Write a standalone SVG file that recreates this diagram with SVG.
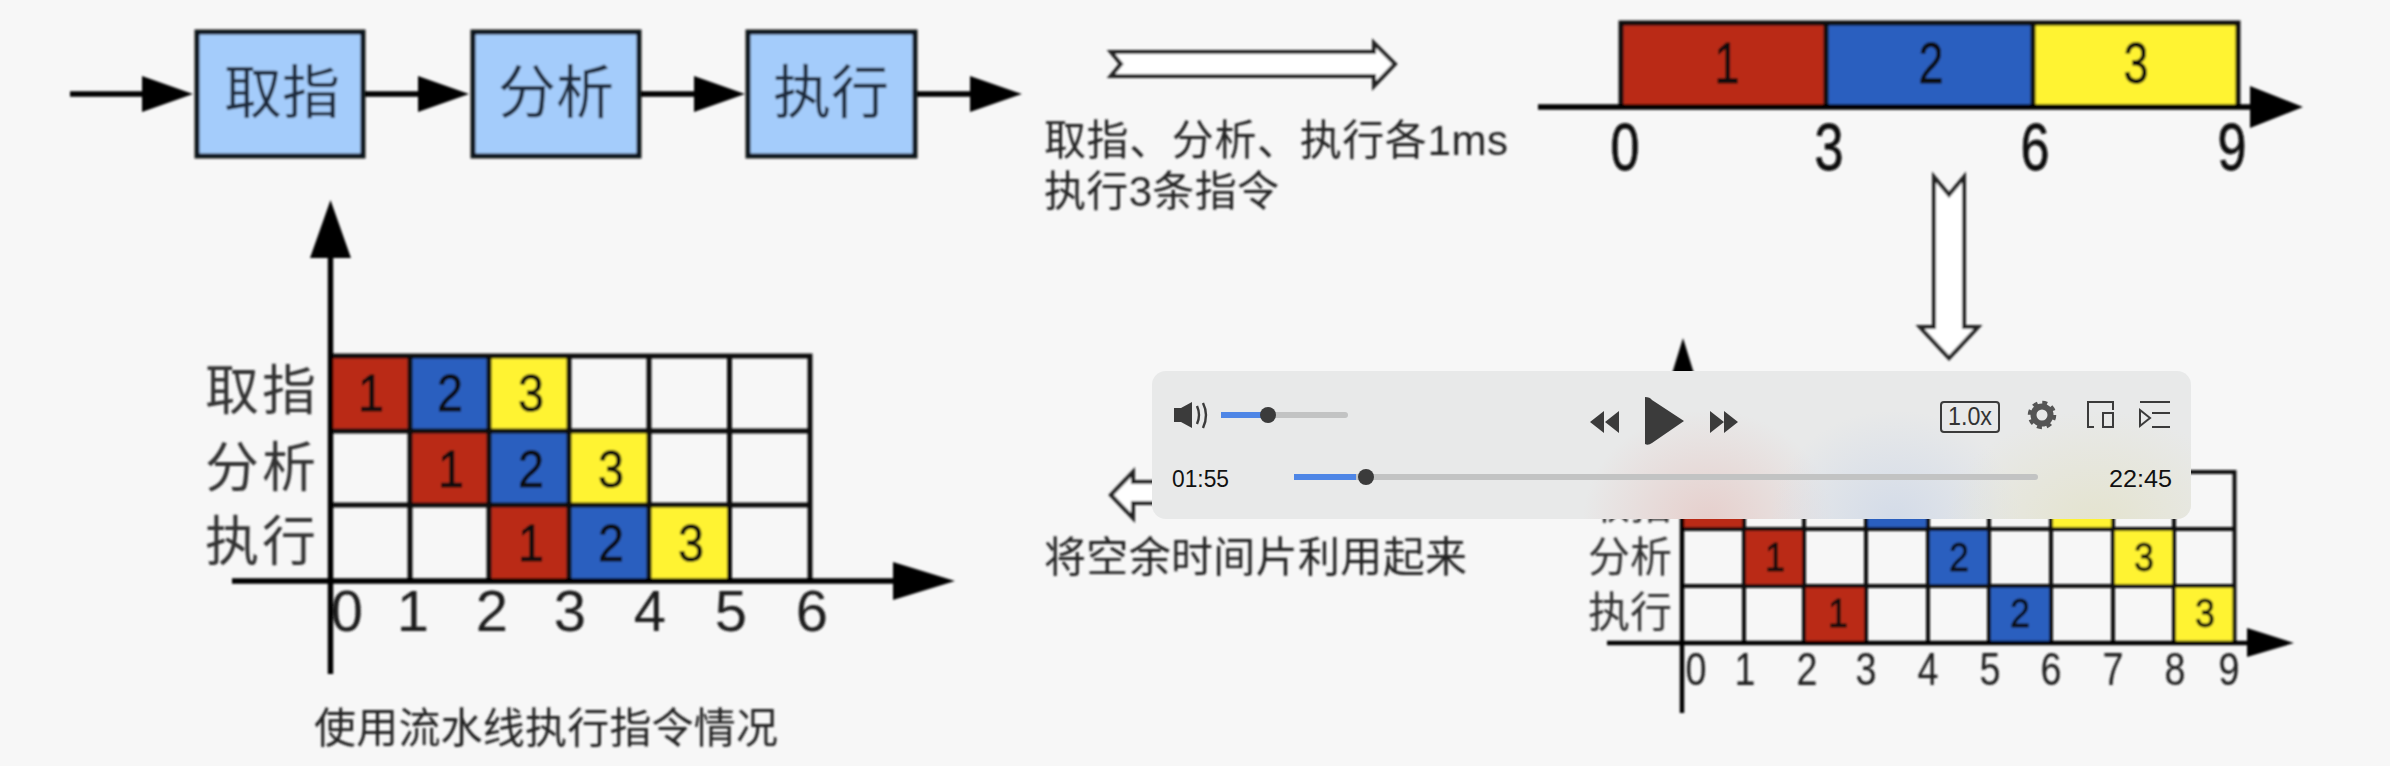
<svg xmlns="http://www.w3.org/2000/svg" width="2390" height="766" viewBox="0 0 2390 766">
<style>
text{font-family:"Liberation Sans","Noto Sans CJK SC",sans-serif;fill:#222}
.cn{font-size:42px}
.box{fill:#a4ccfb;stroke:#10141c;stroke-width:5}
.boxt{font-size:58px;text-anchor:middle;fill:#1f2a3c}
.l{stroke:#000;stroke-width:5.5;fill:none}
.g{stroke:#111;stroke-width:5;fill:none}
.g2{stroke:#111;stroke-width:4;fill:none}
.h{fill:#000}
.w{fill:#fff;stroke:#222;stroke-width:4}
.r{fill:#ba2c17}.b{fill:#2b5fbf}.y{fill:#fff333}
.d{font-family:"Liberation Sans",sans-serif;text-anchor:middle;fill:#1a1a1a}
.bd{fill:#0c0c0c;stroke:#0c0c0c;stroke-width:.8}
.d1{font-size:66px}.d2{font-size:58px}.d3{font-size:52px}.d4{font-size:58px}.d5{font-size:46px}.d6{font-size:40px}
.rl1{font-size:54px;text-anchor:middle;letter-spacing:3px;fill:#333}
.rl2{font-size:42px;text-anchor:middle;fill:#333}
.ui{fill:#3b3b3b}
.uis{fill:none;stroke:#3b3b3b;stroke-width:2.4}
.t{font-family:"Liberation Sans",sans-serif;font-size:24px;fill:#111}
.bl{fill:#4e86e6}.gr{fill:#c2c3c3}
</style>
<defs>
<filter id="soft" x="-2%" y="-2%" width="104%" height="104%"><feGaussianBlur stdDeviation="0.9"/></filter>
<radialGradient id="gr"><stop offset="0" stop-color="#e6cfcc"/><stop offset="1" stop-color="#e6cfcc" stop-opacity="0"/></radialGradient>
<radialGradient id="gb"><stop offset="0" stop-color="#d3dbe8"/><stop offset="1" stop-color="#d3dbe8" stop-opacity="0"/></radialGradient>
<radialGradient id="gy"><stop offset="0" stop-color="#e4e3ce"/><stop offset="1" stop-color="#e4e3ce" stop-opacity="0"/></radialGradient>
<clipPath id="pc"><rect x="1152" y="371" width="1039" height="148" rx="14"/></clipPath>
</defs>
<rect width="2390" height="766" fill="#f7f7f7"/>
<g filter="url(#soft)">
<g id="connectors">
<path class="l" d="M70 94H150M364 94H425M640 94H700M916 94H975"/>
<path class="h" d="M142 76L193 94L142 112ZM418 76L469 94L418 112ZM694 76L745 94L694 112ZM970 76L1022 94L970 112Z"/>
<path class="w" d="M1111 52H1374V43L1395 64L1374 86V76H1111L1121 64Z"/>
<path class="w" d="M1934 177L1949 195L1964 177V327H1978L1949 358L1920 327H1934Z"/>
<path class="w" d="M1175 482H1133V472L1111 495L1133 518V503H1175Z"/>
</g>
<g id="node-fetch"><rect class="box" x="197" y="32" width="166" height="124"/><text class="boxt" x="282" y="113">取指</text></g>
<g id="node-analyze"><rect class="box" x="473" y="32" width="166" height="124"/><text class="boxt" x="556" y="113">分析</text></g>
<g id="node-execute"><rect class="box" x="748" y="32" width="167" height="124"/><text class="boxt" x="831" y="113">执行</text></g>
<g id="note-top">
<text class="cn" x="1044" y="155" textLength="464">取指、分析、执行各1ms</text>
<text class="cn" x="1044" y="206" textLength="235">执行3条指令</text>
</g>
<g id="serial-timeline">
<rect class="r" x="1621" y="22" width="205" height="85"/>
<rect class="b" x="1826" y="22" width="207" height="85"/>
<rect class="y" x="2033" y="22" width="205" height="85"/>
<path class="g" d="M1621 107V23H2238V107M1826 23V107M2033 23V107"/>
<path class="l" d="M1538 107H2255"/>
<path class="h" d="M2250 86L2303 107L2250 128Z"/>
<text class="d d2 bd" x="1727" y="83" textLength="25" lengthAdjust="spacingAndGlyphs">1</text><text class="d d2 bd" x="1931" y="83" textLength="25" lengthAdjust="spacingAndGlyphs">2</text><text class="d d2 bd" x="2136" y="83" textLength="25" lengthAdjust="spacingAndGlyphs">3</text>
<text class="d d1 bd" x="1625" y="170" textLength="29" lengthAdjust="spacingAndGlyphs">0</text><text class="d d1 bd" x="1829" y="170" textLength="29" lengthAdjust="spacingAndGlyphs">3</text><text class="d d1 bd" x="2035" y="170" textLength="29" lengthAdjust="spacingAndGlyphs">6</text><text class="d d1 bd" x="2232" y="170" textLength="29" lengthAdjust="spacingAndGlyphs">9</text>
</g>
<g id="pipeline-chart">
<rect class="r" x="331" y="356" width="79" height="75"/><rect class="b" x="410" y="356" width="79" height="75"/><rect class="y" x="489" y="356" width="80" height="75"/>
<rect class="r" x="410" y="431" width="79" height="74"/><rect class="b" x="489" y="431" width="80" height="74"/><rect class="y" x="569" y="431" width="80" height="74"/>
<rect class="r" x="489" y="505" width="80" height="76"/><rect class="b" x="569" y="505" width="80" height="76"/><rect class="y" x="649" y="505" width="80" height="76"/>
<path class="g" d="M331 356H810V581M331 431H810M331 505H810M410 356V581M489 356V581M569 356V581M649 356V581M729.500 356V581"/>
<path class="l" d="M330.500 250V674M232 581H900"/>
<path class="h" d="M310 258L330.500 200L351 258ZM893 562L955 581L893 600Z"/>
<text class="rl1" x="262" y="410">取指</text><text class="rl1" x="262" y="487">分析</text><text class="rl1" x="262" y="561">执行</text>
<g>
<text class="d d3 bd" x="371" y="411" textLength="26" lengthAdjust="spacingAndGlyphs">1</text><text class="d d3 bd" x="450" y="411" textLength="26" lengthAdjust="spacingAndGlyphs">2</text><text class="d d3 bd" x="531" y="411" textLength="26" lengthAdjust="spacingAndGlyphs">3</text>
<text class="d d3 bd" x="451" y="487" textLength="26" lengthAdjust="spacingAndGlyphs">1</text><text class="d d3 bd" x="531" y="487" textLength="26" lengthAdjust="spacingAndGlyphs">2</text><text class="d d3 bd" x="611" y="487" textLength="26" lengthAdjust="spacingAndGlyphs">3</text>
<text class="d d3 bd" x="531" y="561" textLength="26" lengthAdjust="spacingAndGlyphs">1</text><text class="d d3 bd" x="611" y="561" textLength="26" lengthAdjust="spacingAndGlyphs">2</text><text class="d d3 bd" x="691" y="561" textLength="26" lengthAdjust="spacingAndGlyphs">3</text>
</g>
<text class="d d4" x="347" y="631">0</text><text class="d d4" x="413" y="631">1</text><text class="d d4" x="492" y="631">2</text><text class="d d4" x="570" y="631">3</text><text class="d d4" x="650" y="631">4</text><text class="d d4" x="731" y="631">5</text><text class="d d4" x="812" y="631">6</text>
<text class="cn" x="314" y="743" textLength="464">使用流水线执行指令情况</text>
</g>
<g id="note-bottom"><text class="cn" x="1044" y="572" textLength="423">将空余时间片利用起来</text></g>
<g id="optimized-chart">
<rect class="r" x="1682" y="472" width="62" height="57"/><rect class="b" x="1866" y="472" width="62" height="57"/><rect class="y" x="2051" y="472" width="62" height="57"/>
<rect class="r" x="1744" y="529" width="60" height="57"/><rect class="b" x="1928" y="529" width="61" height="57"/><rect class="y" x="2113" y="529" width="61" height="57"/>
<rect class="r" x="1804" y="586" width="62" height="57"/><rect class="b" x="1989" y="586" width="62" height="57"/><rect class="y" x="2174" y="586" width="60" height="57"/>
<path class="g2" d="M1682 472H2234.500V643M1682 529H2234.500M1682 586H2234.500M1744 472V643M1804 472V643M1866 472V643M1928 472V643M1989 472V643M2051 472V643M2113 472V643M2174 472V643"/>
<path class="l" d="M1607 643H2255M1682 360V713" style="stroke-width:4.500"/>
<path class="h" d="M2247 628L2294 643L2247 657ZM1670 380L1683 338L1696 380Z"/>
<text class="rl2" x="1630" y="519">取指</text><text class="rl2" x="1630" y="572">分析</text><text class="rl2" x="1630" y="627">执行</text>
<text class="d d6 bd" x="1775" y="571" textLength="20" lengthAdjust="spacingAndGlyphs">1</text><text class="d d6 bd" x="1959" y="571" textLength="20" lengthAdjust="spacingAndGlyphs">2</text><text class="d d6 bd" x="2144" y="571" textLength="20" lengthAdjust="spacingAndGlyphs">3</text>
<text class="d d6 bd" x="1838" y="627" textLength="20" lengthAdjust="spacingAndGlyphs">1</text><text class="d d6 bd" x="2020" y="627" textLength="20" lengthAdjust="spacingAndGlyphs">2</text><text class="d d6 bd" x="2205" y="627" textLength="20" lengthAdjust="spacingAndGlyphs">3</text>
<text class="d d5" x="1696" y="685" textLength="21" lengthAdjust="spacingAndGlyphs">0</text><text class="d d5" x="1745" y="685" textLength="21" lengthAdjust="spacingAndGlyphs">1</text><text class="d d5" x="1807" y="685" textLength="21" lengthAdjust="spacingAndGlyphs">2</text><text class="d d5" x="1866" y="685" textLength="21" lengthAdjust="spacingAndGlyphs">3</text><text class="d d5" x="1928" y="685" textLength="21" lengthAdjust="spacingAndGlyphs">4</text><text class="d d5" x="1990" y="685" textLength="21" lengthAdjust="spacingAndGlyphs">5</text><text class="d d5" x="2051" y="685" textLength="21" lengthAdjust="spacingAndGlyphs">6</text><text class="d d5" x="2113" y="685" textLength="21" lengthAdjust="spacingAndGlyphs">7</text><text class="d d5" x="2175" y="685" textLength="21" lengthAdjust="spacingAndGlyphs">8</text><text class="d d5" x="2229" y="685" textLength="21" lengthAdjust="spacingAndGlyphs">9</text>
</g>
</g>
<g id="player-controls">
<rect x="1152" y="371" width="1039" height="148" rx="14" fill="#e8e9e9"/>
<g clip-path="url(#pc)">
<ellipse cx="1708" cy="520" rx="125" ry="110" fill="url(#gr)"/>
<ellipse cx="1895" cy="520" rx="125" ry="110" fill="url(#gb)"/>
<ellipse cx="2095" cy="525" rx="150" ry="115" fill="url(#gy)"/>
</g>
<path class="ui" d="M1174 408H1181L1192 402V428L1181 422H1174Z"/>
<path class="uis" d="M1197 406Q1201 415 1197 424M1203 403Q1209 415 1203 428"/>
<rect class="gr" x="1221" y="412" width="127" height="6" rx="3"/><rect class="bl" x="1221" y="412" width="47" height="6"/><ellipse class="ui" cx="1268" cy="415" rx="8" ry="8"/>
<path class="ui" d="M1590 422L1604 411V433ZM1605 422L1619 411V433Z"/>
<path class="ui" d="M1645 397Q1650 397 1652 400L1684 421L1652 443Q1648 446 1645 444Z"/>
<path class="ui" d="M1710 411L1724 422L1710 433ZM1724 411L1738 422L1724 433Z"/>
<rect x="1941" y="402" width="58" height="30" rx="3" fill="none" stroke="#3b3b3b" stroke-width="2"/>
<text class="t" x="1970" y="425" text-anchor="middle" textLength="44" lengthAdjust="spacingAndGlyphs" style="font-size:26px;fill:#333">1.0x</text>
<circle cx="2042" cy="415" r="8.500" fill="none" stroke="#555" stroke-width="6"/>
<circle cx="2042" cy="415" r="12.500" fill="none" stroke="#555" stroke-width="3.500" stroke-dasharray="5 4.800"/>
<path class="uis" d="M2097 402H2113V410M2113 427H2103V413H2113ZM2097 402H2088V427H2094" style="stroke-width:2"/>
<path class="uis" d="M2140 402H2170M2152 413H2170M2152 427H2170M2140 410L2150 418L2140 426Z" style="stroke-width:2"/>
<text class="t" x="1172" y="487" textLength="57" lengthAdjust="spacingAndGlyphs">01:55</text>
<text class="t" x="2109" y="487" textLength="63" lengthAdjust="spacingAndGlyphs">22:45</text>
<rect class="gr" x="1294" y="474" width="744" height="6" rx="3"/><rect class="bl" x="1294" y="474" width="62" height="6"/>
<ellipse class="ui" cx="1366" cy="477" rx="8" ry="8"/>
</g>
</svg>
